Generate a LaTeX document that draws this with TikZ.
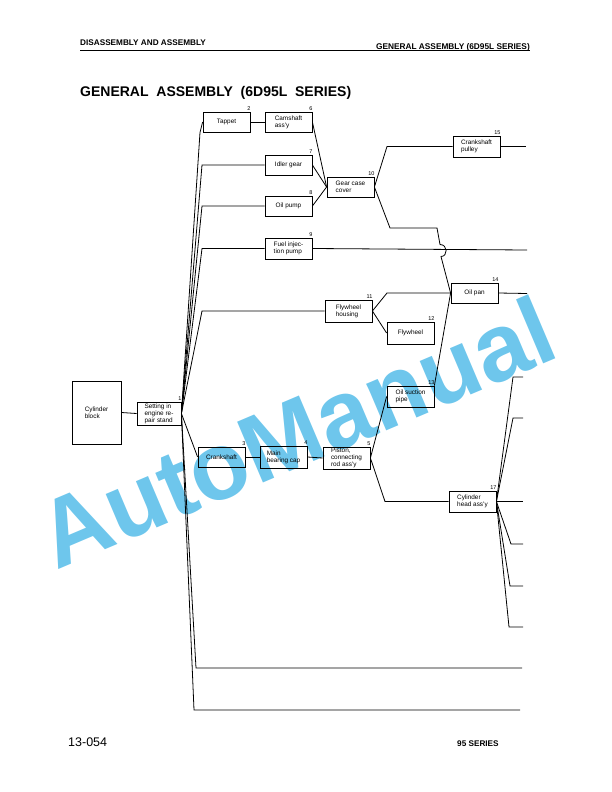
\documentclass[tikz,border=0pt]{standalone}
\usepackage{fontspec}
\setmainfont{Liberation Sans}
\definecolor{wmblue}{RGB}{110,198,236}
\tikzset{
  part/.style={draw, line width=0.8pt, minimum width=47pt, minimum height=20pt,
    inner sep=1pt, align=left, font=\fontsize{6.4}{7}\selectfont},
  num/.style={anchor=south east, inner sep=0.8pt, xshift=1pt, font=\fontsize{5.5}{6}\selectfont},
  wire/.style={line width=0.8pt}
}
\begin{document}
\begin{tikzpicture}[x=1pt,y=-1pt]
\useasboundingbox (0,0) rectangle (612,792);
\node[rotate=23, text=wmblue, font=\bfseries\fontsize{96}{96}\selectfont] (wmark) at (296,432) {AutoManual};
\node[anchor=base west, inner sep=0, font=\bfseries\fontsize{8.2}{9}\selectfont] (lefthead) at (80,46) {DISASSEMBLY AND ASSEMBLY};
\node[anchor=base east, inner sep=0, font=\bfseries\fontsize{8.3}{9}\selectfont] (righthead) at (530,49) {GENERAL ASSEMBLY (6D95L SERIES)};
\draw[line width=1pt] (lefthead.south west |- 0,51) -- (righthead.east |- 0,51);
\node[anchor=base west, inner sep=0, font=\bfseries\fontsize{14}{16}\selectfont] (title) at (80,96) {GENERAL\ \ ASSEMBLY\ \ (6D95L\ \ SERIES)};
\node[anchor=base west, inner sep=0, font=\fontsize{12.5}{14}\selectfont] (pageno) at (68,746) {13-054};
\node[anchor=base west, inner sep=0, font=\bfseries\fontsize{8.2}{9}\selectfont] (series) at (457,746) {95 SERIES};

\node[part, minimum width=49pt, minimum height=63pt] (cyl) at (96.5,412.5) {Cylinder\\block};
\node[part, minimum width=44pt, minimum height=23pt, inner sep=0.5pt, label={[num]north east:1}] (stand) at (159,413.5) {Setting in\\engine re-\\pair stand};
\node[part, label={[num]north east:2}] (tappet) at (226.5,122) {Tappet};
\node[part, label={[num]north east:6}] (cam) at (288.5,122) {Camshaft\\ass'y};
\node[part, label={[num]north east:7}] (idler) at (288.5,165) {Idler gear};
\node[part, label={[num]north east:8}] (oilpump) at (288.5,206) {Oil pump};
\node[part, minimum height=21pt, label={[num]north east:9}] (fuel) at (288.5,248.5) {Fuel injec-\\tion pump};
\node[part, label={[num]north east:10}] (gear) at (350.5,187) {Gear case\\cover};
\node[part, minimum height=21pt, label={[num]north east:15}] (pulley) at (476.5,146.5) {Crankshaft\\pulley};
\node[part, label={[num]north east:14}] (oilpan) at (474.5,293) {Oil pan};
\node[part, minimum height=22pt, label={[num]north east:11}] (flyhous) at (348.5,311) {Flywheel\\housing};
\node[part, minimum height=22pt, label={[num]north east:12}] (flywheel) at (410.5,333) {Flywheel};
\node[part, minimum height=21pt, label={[num]north east:13}] (suction) at (410.5,396.5) {Oil suction\\pipe};
\node[part, label={[num]north east:3}] (crank) at (221.5,457) {Crankshaft};
\node[part, minimum height=22pt, label={[num]north east:4}] (bearing) at (283.5,457) {Main\\bearing cap};
\node[part, minimum height=22pt, inner sep=0.5pt, label={[num]north east:5}] (piston) at (346.5,458) {Piston,\\connecting\\rod ass'y};
\node[part, minimum height=21pt, label={[num]north east:17}] (head) at (472.5,501.5) {Cylinder\\head ass'y};

\coordinate (pulleyend) at (526,146.5);
\coordinate (fuelend) at (527,250);
\coordinate (oilpanend) at (527,293.5);
\coordinate (lowend) at (522,668);
\coordinate (lastend) at (520,710);
\coordinate (headend1) at (523,377);
\coordinate (headend2) at (523,418);
\coordinate (headend3) at (523,501.5);
\coordinate (headend4) at (523,544);
\coordinate (headend5) at (523,586);
\coordinate (headend6) at (523,627);

\draw[wire] (cyl.east) -- (stand.west);
\draw[wire] (stand.east) -- (200,0 |- tappet.south) -- (tappet.west);
\draw[wire] (stand.east) -- (202,0 |- idler.west) -- (idler.west);
\draw[wire] (stand.east) -- (202,0 |- oilpump.west) -- (oilpump.west);
\draw[wire] (stand.east) -- (202,0 |- fuel.west) -- (fuel.west);
\draw[wire] (stand.east) -- (202,0 |- flyhous.west) -- (flyhous.west);
\draw[wire] (stand.east) -- (crank.west);
\draw[wire] (stand.east) -- (196,0 |- lowend) -- (lowend);
\draw[wire] (stand.east) -- (194,0 |- lastend) -- (lastend);

\draw[wire] (tappet.east) -- (cam.west);
\draw[wire] (cam.east) -- (gear.west);
\draw[wire] (idler.east) -- (gear.west);
\draw[wire] (oilpump.east) -- (gear.west);
\draw[wire] (gear.east) -- (387,0 |- pulley.west) -- (pulley.west);
\draw[wire] (pulley.east) -- (pulleyend);
\draw[wire] (gear.east) -- (390,228) -- (437,228) -- (440,244.5)
  .. controls (448,244.5) and (448,256.5) .. (441,256.5) -- (oilpan.west);
\draw[wire] (fuel.east) -- (fuelend);
\draw[wire] (flyhous.east) -- (387,0 |- oilpan.west) -- (oilpan.west);
\draw[wire] (flyhous.east) -- (flywheel.west);
\draw[wire] (suction.north east) -- (oilpan.west);
\draw[wire] (oilpan.east) -- (oilpanend);

\draw[wire] (crank.east) -- (bearing.west);
\draw[wire] (bearing.east) -- (piston.west);
\draw[wire] (piston.east) -- (suction.west);
\draw[wire] (piston.east) -- (385,0 |- head.west) -- (head.west);

\draw[wire] (head.east) -- (513,0 |- headend1) -- (headend1);
\draw[wire] (head.east) -- (513,0 |- headend2) -- (headend2);
\draw[wire] (head.east) -- (headend3);
\draw[wire] (head.east) -- (511,0 |- headend4) -- (headend4);
\draw[wire] (head.east) -- (510,0 |- headend5) -- (headend5);
\draw[wire] (head.east) -- (509,0 |- headend6) -- (headend6);
\end{tikzpicture}
\end{document}
